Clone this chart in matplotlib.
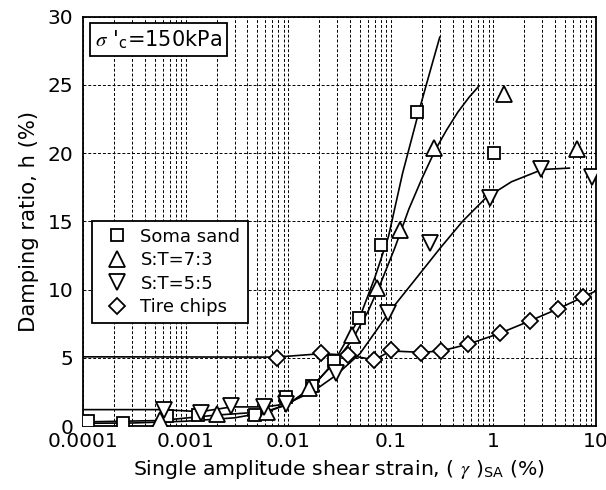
import matplotlib
matplotlib.use("Agg")
from matplotlib import pyplot as plt
from matplotlib.ticker import LogLocator, NullFormatter
from matplotlib.lines import Line2D

plt.rcParams['font.family'] = ['DejaVu Sans']
plt.rcParams['mathtext.fontset'] = 'stix'

# measured points, strain (%) vs damping ratio (%)
soma_x = [1.12e-4, 2.45e-4, 6.6e-4, 1.32e-3, 4.7e-3, 9.5e-3, 0.0172, 0.028, 0.049, 0.081, 0.18, 1.02]
soma_y = [0.35, 0.2, 0.72, 0.78, 0.82, 2.1, 2.95, 4.8, 7.95, 13.3, 23.0, 20.0]

st73_x = [5.6e-4, 2.0e-3, 6.2e-3, 0.0158, 0.042, 0.074, 0.122, 0.265, 1.28, 6.6]
st73_y = [0.45, 0.9, 1.05, 2.8, 6.7, 10.1, 14.4, 20.4, 24.3, 20.3]

st55_x = [6.2e-4, 1.4e-3, 2.8e-3, 5.8e-3, 9.5e-3, 0.029, 0.094, 0.24, 0.92, 2.9, 9.1]
st55_y = [1.15, 0.95, 1.45, 1.4, 1.62, 3.9, 8.3, 13.4, 16.7, 18.8, 18.25]

tire_x = [7.7e-3, 0.0208, 0.0384, 0.0686, 0.101, 0.197, 0.308, 0.567, 1.16, 2.26, 4.31, 7.5]
tire_y = [5.02, 5.32, 5.19, 4.83, 5.56, 5.36, 5.51, 6.0, 6.78, 7.7, 8.61, 9.46]

# fitted curves
soma_cx = [1e-4, 3e-4, 1e-3, 3e-3, 6e-3, 0.01, 0.017, 0.028, 0.05, 0.07, 0.095, 0.13, 0.19, 0.25, 0.30]
soma_cy = [0.2, 0.22, 0.35, 0.6, 1.0, 1.6, 2.8, 4.7, 8.0, 10.9, 13.9, 18.5, 23.2, 26.4, 28.5]

st73_cx = [1e-4, 5.6e-4, 2e-3, 6e-3, 0.01, 0.016, 0.028, 0.042, 0.06, 0.08, 0.11, 0.15, 0.2,
           0.27, 0.35, 0.45, 0.58, 0.72]
st73_cy = [0.3, 0.4, 0.8, 1.05, 1.6, 2.7, 4.6, 6.3, 8.4, 10.5, 13.1, 15.9, 18.1,
           20.2, 21.7, 23.0, 24.1, 24.9]

st55_cx = [1e-4, 6e-4, 1.4e-3, 2.8e-3, 5.8e-3, 0.0095, 0.018, 0.029, 0.05, 0.1, 0.18, 0.3, 0.5,
           0.84, 1.5, 3.0, 5.5]
st55_cy = [1.2, 1.2, 1.05, 1.4, 1.4, 1.6, 2.6, 3.7, 5.3, 8.5, 10.9, 13.0, 15.0,
           16.7, 17.9, 18.8, 18.9]

tire_cx = [1e-4, 0.0077, 0.021, 0.038, 0.069, 0.10, 0.2, 0.31, 0.57, 1.16, 2.26, 4.3, 7.5, 10]
tire_cy = [5.07, 5.05, 5.3, 5.2, 4.85, 5.5, 5.4, 5.5, 6.0, 6.8, 7.7, 8.6, 9.45, 9.9]

x_ticks = [1e-4, 1e-3, 1e-2, 1e-1, 1, 10]
x_ticklabels = ['0.0001', '0.001', '0.01', '0.1', '1', '10']
y_ticks = [0, 5, 10, 15, 20, 25, 30]

series = [
    ('Soma sand', soma_x, soma_y, soma_cx, soma_cy, 's', 8),
    ('S:T=7:3', st73_x, st73_y, st73_cx, st73_cy, '^', 12),
    ('S:T=5:5', st55_x, st55_y, st55_cx, st55_cy, 'v', 12),
    ('Tire chips', tire_x, tire_y, tire_cx, tire_cy, 'D', 8),
]

fig = plt.figure(figsize=(6.06, 4.9), dpi=100)
ax = fig.add_axes([0.137, 0.1306, 0.8465, 0.8354])

handles = []
for name, mx, my, cx, cy, mk, ms in series:
    ax.plot(cx, cy, color='black', lw=1.2, zorder=2)
    ax.plot(mx, my, ls='none', marker=mk, ms=ms, mfc='white', mec='black', mew=1.3, zorder=3)
    handles.append(Line2D([], [], ls='none', marker=mk, ms=ms, mfc='white', mec='black', mew=1.3, label=name))

ax.set_xscale('log')
ax.set_xlim(1e-4, 10)
ax.set_ylim(0, 30)
ax.set_xticks(x_ticks)
ax.set_xticklabels(x_ticklabels)
ax.xaxis.set_minor_locator(LogLocator(base=10, subs=range(2, 10), numticks=50))
ax.xaxis.set_minor_formatter(NullFormatter())
ax.set_yticks(y_ticks)

ax.grid(True, which='both', axis='x', color='black', lw=0.7, ls=(0, (3, 2)))
ax.grid(True, which='major', axis='y', color='black', lw=0.7, ls=(0, (3, 2)))
ax.set_axisbelow(True)

ax.tick_params(which='both', length=0, labelsize=14.5)
ax.tick_params(axis='x', pad=4)
ax.tick_params(axis='y', pad=7)
for sp in ax.spines.values():
    sp.set_linewidth(1.3)

ax.set_xlabel(r"Single amplitude shear strain, ( $\gamma$ )$_{\mathregular{SA}}$ (%)", fontsize=14.7, labelpad=5)
ax.set_ylabel("Damping ratio, h (%)", fontsize=15.2, labelpad=6)

ax.text(0.024, 0.972, r"$\sigma$ '$_{\mathregular{c}}$=150kPa", transform=ax.transAxes,
        fontsize=15, ha='left', va='top',
        bbox=dict(boxstyle='square,pad=0.25', fc='white', ec='black', lw=1.3))

leg = ax.legend(handles=handles, loc='lower left', bbox_to_anchor=(0.017, 0.251), borderaxespad=0,
                fontsize=13, labelspacing=0.3, handlelength=2.0, handletextpad=0.3,
                borderpad=0.4, fancybox=False, framealpha=1, edgecolor='black')
leg.get_frame().set_linewidth(1.3)

fig.savefig('out.png', dpi=100)
